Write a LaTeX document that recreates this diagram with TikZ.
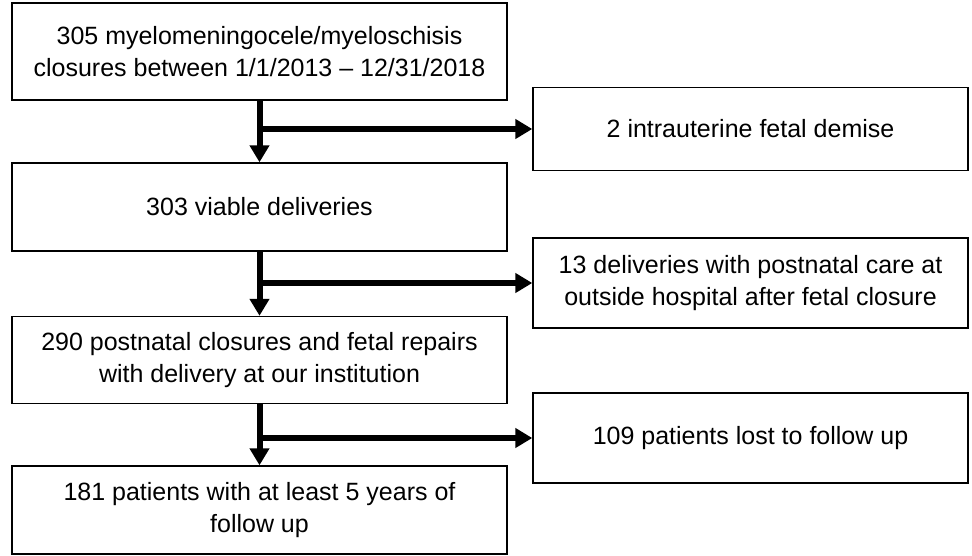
\documentclass[tikz,border=0pt]{standalone}
\usepackage{fontspec}
\setmainfont{Liberation Sans}
\usetikzlibrary{arrows.meta}
\begin{document}
\begin{tikzpicture}[x=1pt,y=-1pt,
  box/.style={draw, line width=1.4pt, inner sep=0pt, align=center,
    font=\fontsize{25}{32}\selectfont},
  arr/.style={line width=6pt, -{Triangle[length=17pt,width=19pt]}}]
\useasboundingbox (0,0) rectangle (972,555);
\node[box, minimum width=495pt, minimum height=97pt] (b1) at (259.5,51.5) {305 myelomeningocele/myeloschisis\\closures between 1/1/2013 -- 12/31/2018};
\node[box, minimum width=495pt, minimum height=88pt] (b2) at (259.5,207) {303 viable deliveries};
\node[box, minimum width=495pt, minimum height=87pt] (b3) at (259.5,360) {290 postnatal closures and fetal repairs\\with delivery at our institution};
\node[box, minimum width=495pt, minimum height=88pt] (b4) at (259.5,510) {181 patients with at least 5 years of\\follow up};
\node[box, minimum width=435pt, minimum height=83pt] (ra) at (750.5,129) {2 intrauterine fetal demise};
\node[box, minimum width=435pt, minimum height=90pt] (rb) at (750.5,283) {13 deliveries with postnatal care at\\outside hospital after fetal closure};
\node[box, minimum width=435pt, minimum height=90pt] (rc) at (750.5,438) {109 patients lost to follow up};
\coordinate (j1) at (259.5,129);
\coordinate (j2) at (259.5,283);
\coordinate (j3) at (259.5,438);
\draw[arr] (b1) -- (b2);
\draw[arr] (b2) -- (b3);
\draw[arr] (b3) -- (b4);
\draw[arr] (j1) -- (ra.west);
\draw[arr] (j2) -- (rb.west);
\draw[arr] (j3) -- (rc.west);
\end{tikzpicture}
\end{document}
